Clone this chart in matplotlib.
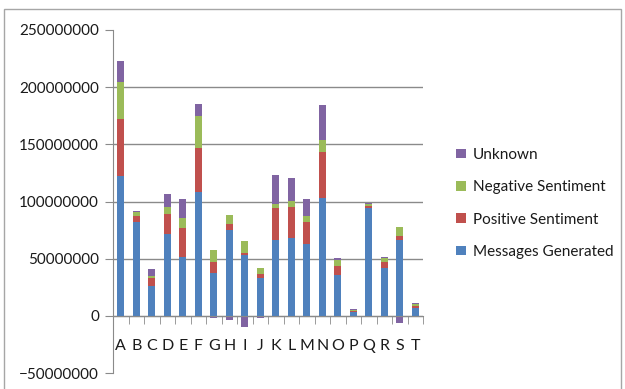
import numpy as np
import matplotlib
matplotlib.use("Agg")
import matplotlib.pyplot as plt
from matplotlib.patches import Rectangle

categories = list("ABCDEFGHIJKLMNOPQRST")
# values in millions
messages = [122, 82.5, 26.5, 72, 51.5, 108.5, 37.3, 75, 53, 33.5,
            66, 68.5, 62.5, 103, 36, 3.2, 94.5, 42, 66.5, 6.5]
positive = [50, 4.5, 7, 17, 25.5, 38, 9.7, 5.5, 2, 3,
            28, 26.5, 19.5, 40, 7.5, 1.2, 2, 5.5, 3, 1.8]
negative = [32.5, 3.5, 1.2, 6, 8.5, 28.5, 10.3, 8, 10.5, 5,
            4, 5.5, 5, 10.5, 5.5, 1, 1.2, 3.2, 8, 1.7]
unknown = [18.5, 1.3, 6.7, 11.5, 17, 10.5, -1.7, -3.5, -9.3, -1.5,
           25, 20, 15, 30.5, 2, 0.8, 1.2, 1.2, -5.8, 0.9]

series_names = ["Messages Generated", "Positive Sentiment", "Negative Sentiment", "Unknown"]
colors = ["#4F81BD", "#C0504D", "#9BBB59", "#8064A2"]

plt.rcParams['font.family'] = ['Lato', 'DejaVu Sans']

fig = plt.figure(figsize=(6.25, 3.89), dpi=100)
ax = fig.add_axes([0.1808, 0.041, 0.496, 0.882])

x = np.arange(len(categories))
pos_bottom = np.zeros(len(x))
neg_bottom = np.zeros(len(x))
handles = []
for name, vals, col in zip(series_names, [messages, positive, negative, unknown], colors):
    v = np.array(vals) * 1e6
    bottom = np.where(v >= 0, pos_bottom, neg_bottom)
    h = ax.bar(x, v, width=0.44, bottom=bottom, color=col, label=name, zorder=3)
    handles.append(h)
    pos_bottom += np.where(v >= 0, v, 0)
    neg_bottom += np.where(v < 0, v, 0)

ax.set_ylim(-50e6, 250e6)
ax.set_xlim(-0.5, len(x) - 0.5)
ax.set_yticks(np.arange(-50e6, 250e6 + 1, 50e6))
ax.ticklabel_format(axis='y', style='plain', useOffset=False)

ax.yaxis.grid(True, color='#8a8a8a', lw=1, zorder=0)
gl = ax.get_ygridlines()
gl[0].set_visible(False)
gl[-1].set_visible(False)

for s in ['top', 'right']:
    ax.spines[s].set_visible(False)
ax.spines['left'].set_color('#8a8a8a')
ax.spines['bottom'].set_position(('data', 0))
ax.spines['bottom'].set_color('#8a8a8a')
ax.spines['bottom'].set_zorder(4)

ax.set_xticks(x)
ax.set_xticklabels(categories)
ax.set_xticks(np.arange(-0.5, len(x), 1), minor=True)
ax.tick_params(axis='x', which='major', length=0, pad=17, labelsize=11.5, labelcolor='#1a1a1a')
ax.tick_params(axis='x', which='minor', length=6, color='#8a8a8a', direction='out')
ax.tick_params(axis='y', length=6, color='#8a8a8a', labelsize=11, labelcolor='#1a1a1a', pad=4)

leg = fig.legend(handles[::-1], series_names[::-1], loc='center left',
                 bbox_to_anchor=(0.718, 0.477), frameon=False, fontsize=11,
                 handlelength=0.6, handleheight=0.6, handletextpad=0.5,
                 labelspacing=1.2, borderpad=0)
for t in leg.get_texts():
    t.set_color('#1a1a1a')

fig.patches.append(Rectangle((0.007, -0.05), 0.986, 1.028, transform=fig.transFigure,
                             fill=False, edgecolor='#a6a6a6', lw=1))

fig.savefig("out.png", dpi=100)
